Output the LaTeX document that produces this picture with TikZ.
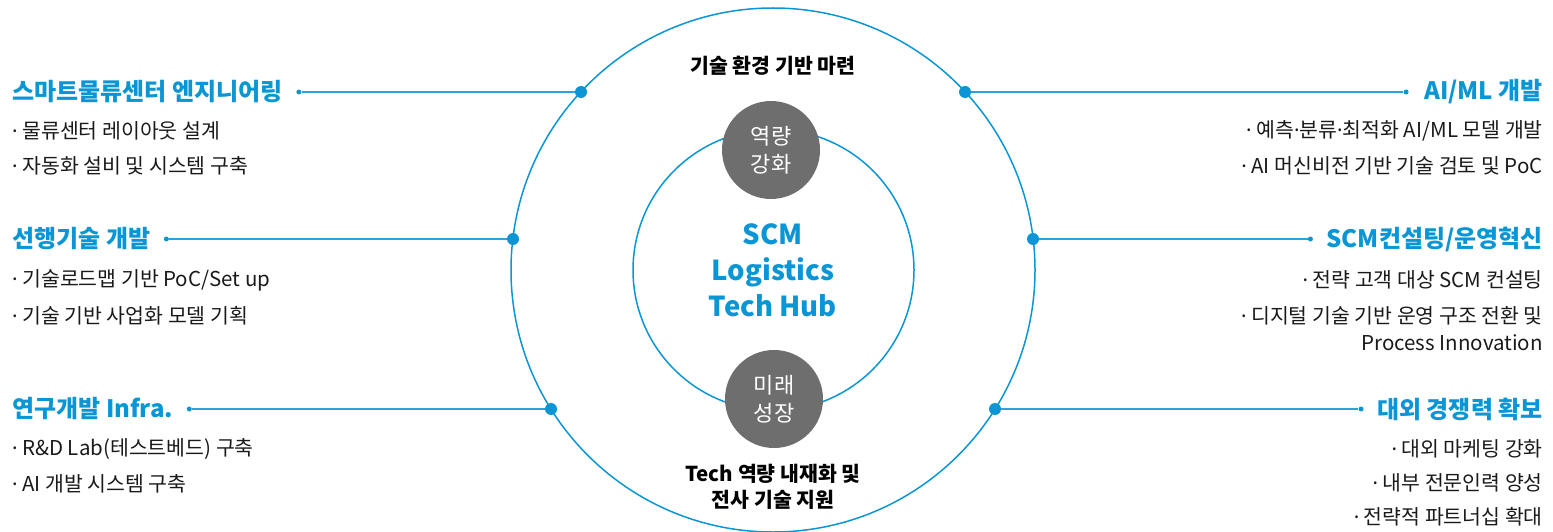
\documentclass[tikz,border=0pt]{standalone}
\usepackage{fontspec}
\setmainfont{Noto Sans CJK KR}
\newfontfamily\dotfont{Noto Sans}
\newcommand\mdot{{\dotfont ·}}
\usetikzlibrary{calc}
\definecolor{hub}{HTML}{0A96D4}
\definecolor{lnc}{HTML}{2AA2DA}
\definecolor{badgegray}{HTML}{6E6E6E}
\definecolor{txt}{HTML}{1A1A1A}
\begin{document}
\begin{tikzpicture}[x=1pt,y=-1pt,
  heading/.style={font=\fontsize{24}{28}\selectfont\bfseries, text=hub, inner sep=0pt},
  bodyl/.style={font=\fontsize{20.5}{24}\selectfont, text=txt, anchor=west, inner sep=0pt},
  bodyr/.style={font=\fontsize{20.5}{24}\selectfont, text=txt, anchor=east, inner sep=0pt, align=right},
  bigdot/.style={circle, fill=hub, minimum size=12pt, inner sep=0pt},
  smalldot/.style={circle, fill=hub, minimum size=5pt, inner sep=0pt},
  link/.style={draw=lnc, line width=1.3pt},
  ring/.style={circle, draw=hub, line width=1.5pt, inner sep=0pt},
  badgenode/.style={circle, fill=badgegray, minimum size=98pt, inner sep=0pt, text=white, align=center, font=\fontsize{22}{28}\selectfont},
  label/.style={font=\fontsize{20.5}{26}\selectfont\bfseries, text=black, align=center, inner sep=0pt}
]
\useasboundingbox (0,0) rectangle (1553,532);
\clip (0,0) rectangle (1553,532);

% circles
\node[ring, minimum size=524pt] (outer) at (773,270) {};
\node[ring, minimum size=281pt] (inner) at (773.5,270) {};

% badges
\node[badgenode] (b1) at (771,150) {역량\\강화};
\node[badgenode] (b2) at (774,399) {미래\\성장};

% center texts
\node[font=\fontsize{27.5}{36}\selectfont\bfseries, text=hub, align=center, inner sep=0pt] (hubtxt) at (773,270) {SCM\\Logistics\\Tech Hub};
\node[label] (top) at (773,66) {기술 환경 기반 마련};
\node[label] (bot) at (773,487) {Tech 역량 내재화 및\\전사 기술 지원};

% big dots on outer circle
\node[bigdot] (d1) at (581,92) {};
\node[bigdot] (d2) at (513,239) {};
\node[bigdot] (d3) at (551,409) {};
\node[bigdot] (d4) at (965,92) {};
\node[bigdot] (d5) at (1033,239) {};
\node[bigdot] (d6) at (995,409) {};

% left headings
\node[heading, anchor=west] (h1) at (12,92) {스마트물류센터 엔지니어링};
\node[heading, anchor=west] (h2) at (12,239) {선행기술 개발};
\node[heading, anchor=west] (h3) at (12,409) {연구개발 Infra.};
% right headings
\node[heading, anchor=east] (h4) at (1543,92) {AI/ML 개발};
\node[heading, anchor=east] (h5) at (1543,239) {SCM컨설팅/운영혁신};
\node[heading, anchor=east] (h6) at (1543,409) {대외 경쟁력 확보};

% small dots
\node[smalldot] (s1) at ($(h1.east)+(16,0)$) {};
\node[smalldot] (s2) at ($(h2.east)+(16,0)$) {};
\node[smalldot] (s3) at ($(h3.east)+(16,0)$) {};
\node[smalldot] (s4) at ($(h4.west)+(-18,0)$) {};
\node[smalldot] (s5) at ($(h5.west)+(-16,0)$) {};
\node[smalldot] (s6) at ($(h6.west)+(-16,0)$) {};

% connectors
\draw[link] (s1) -- (d1);
\draw[link] (s2) -- (d2);
\draw[link] (s3) -- (d3);
\draw[link] (s4) -- (d4);
\draw[link] (s5) -- (d5);
\draw[link] (s6) -- (d6);

% left bullets
\node[bodyl] (l11) at (12,131) {\mdot{} 물류센터 레이아웃 설계};
\node[bodyl] (l12) at (12,166) {\mdot{} 자동화 설비 및 시스템 구축};
\node[bodyl] (l21) at (12,280) {\mdot{} 기술로드맵 기반 PoC/Set up};
\node[bodyl] (l22) at (12,316) {\mdot{} 기술 기반 사업화 모델 기획};
\node[bodyl] (l31) at (12,449) {\mdot{} R\&D Lab(테스트베드) 구축};
\node[bodyl] (l32) at (12,484) {\mdot{} AI 개발 시스템 구축};

% right bullets
\node[bodyr] (r11) at (1543,131) {\mdot{} 예측\mdot{}분류\mdot{}최적화 AI/ML 모델 개발};
\node[bodyr] (r12) at (1543,166) {\mdot{} AI 머신비전 기반 기술 검토 및 PoC};
\node[bodyr] (r21) at (1543,280) {\mdot{} 전략 고객 대상 SCM 컨설팅};
\node[bodyr] (r22) at (1543,316) {\mdot{} 디지털 기술 기반 운영 구조 전환 및};
\node[bodyr] (r23) at (1543,343) {Process Innovation};
\node[bodyr] (r31) at (1543,449) {\mdot{} 대외 마케팅 강화};
\node[bodyr] (r32) at (1543,483) {\mdot{} 내부 전문인력 양성};
\node[bodyr] (r33) at (1543,517) {\mdot{} 전략적 파트너십 확대};
\end{tikzpicture}
\end{document}
